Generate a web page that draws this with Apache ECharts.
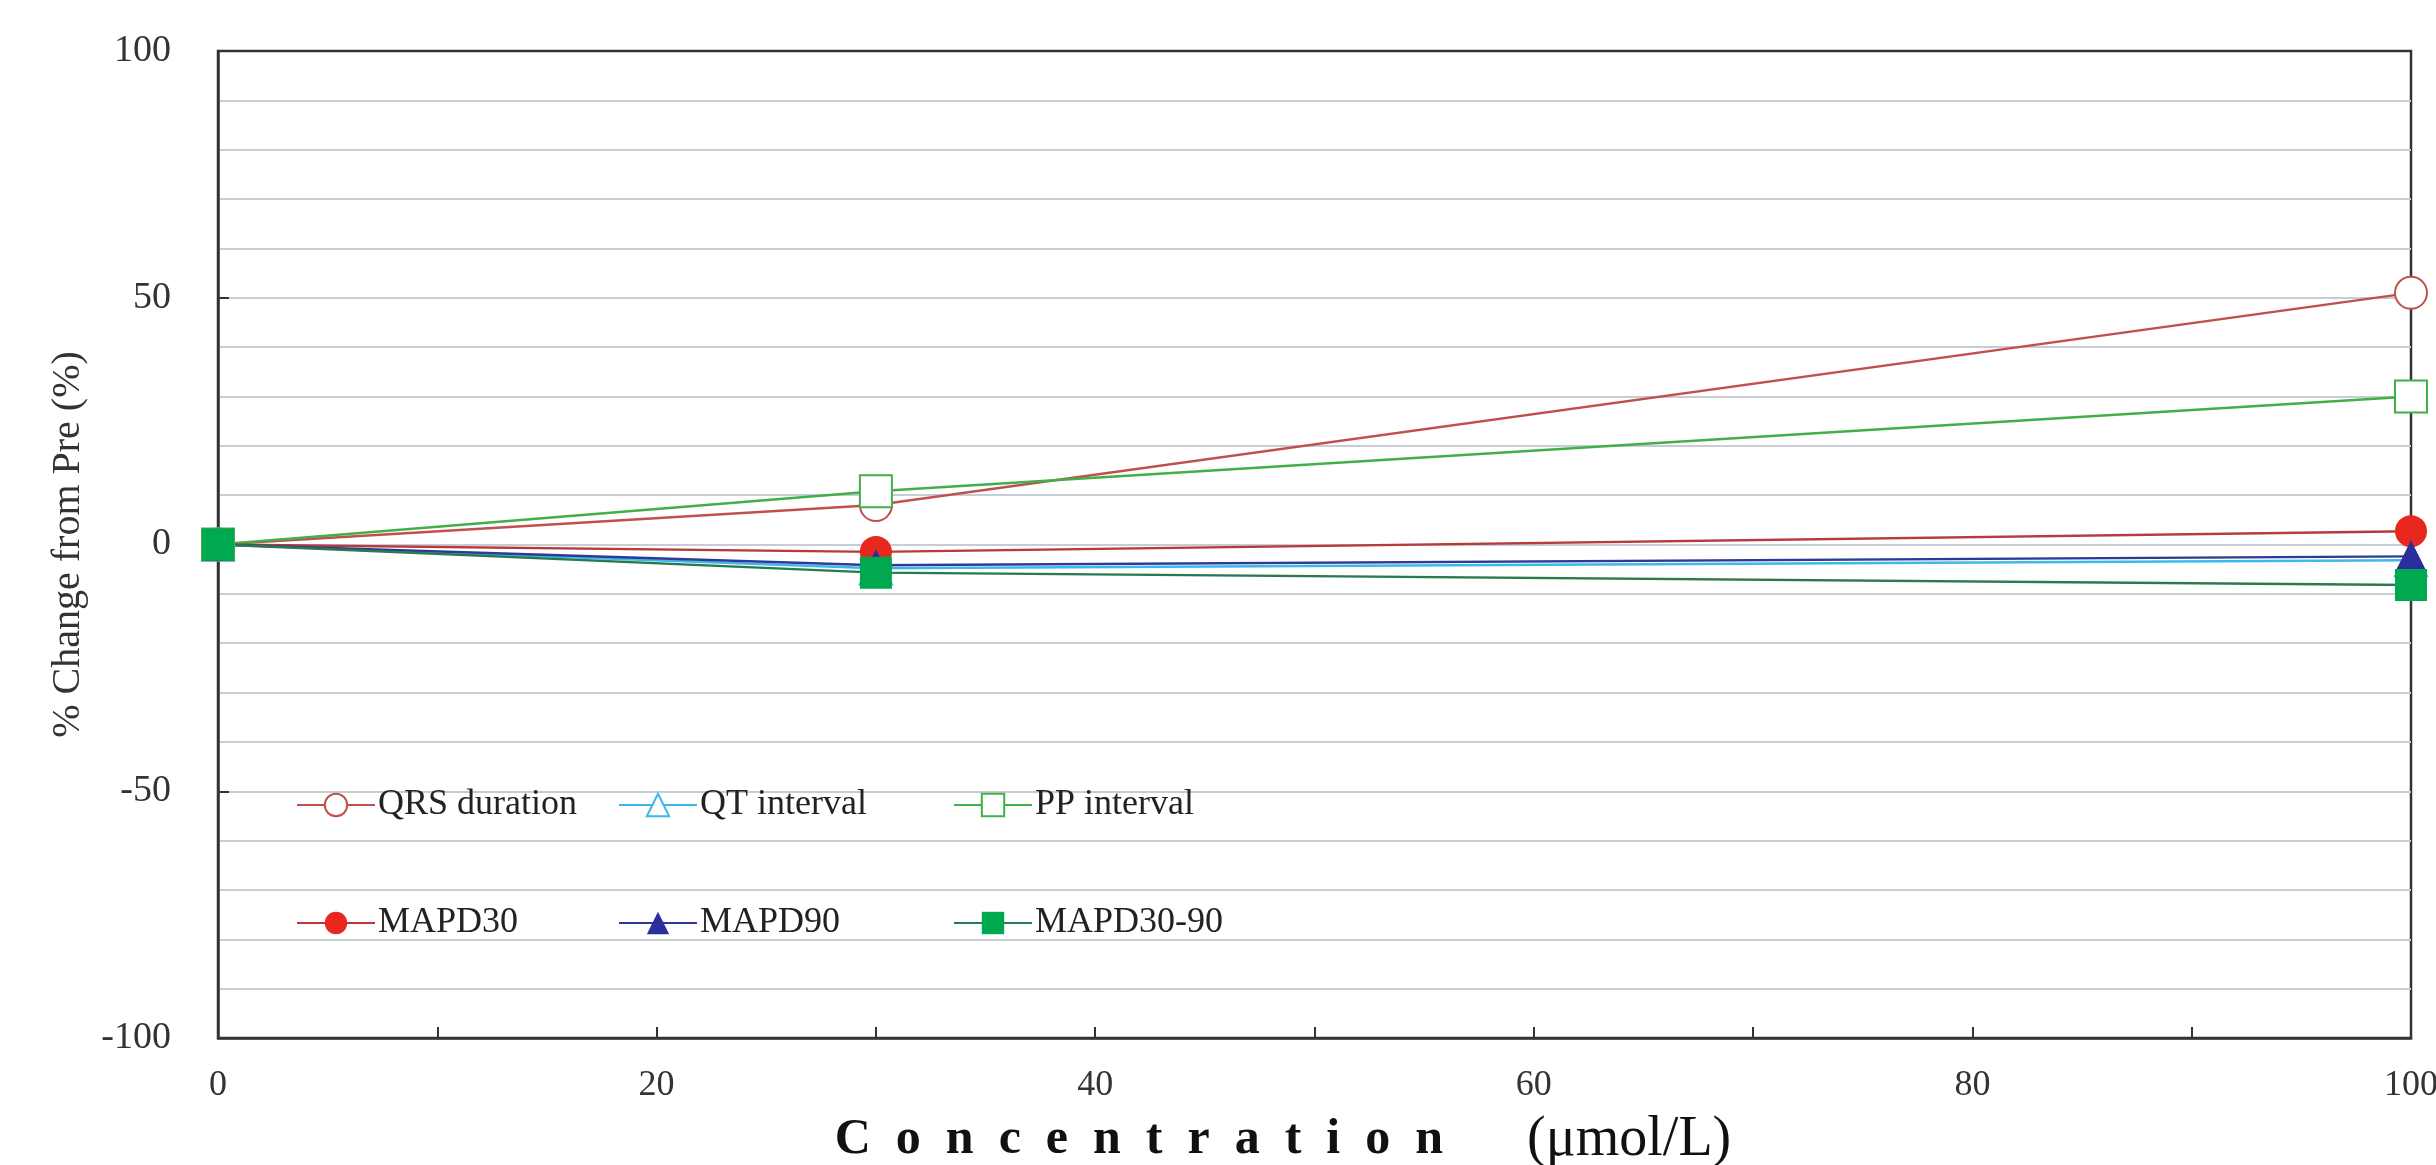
<!DOCTYPE html>
<html>
<head>
<meta charset="utf-8">
<script src="https://cdn.jsdelivr.net/npm/echarts@6/dist/echarts.min.js"></script>
<style>
html,body{margin:0;padding:0;background:#fff;}
#chart{width:2436px;height:1165px;}
</style>
</head>
<body>
<div id="chart"></div>
<script>
// ---- data ----
const concentrations = [0, 30, 100];
const qrsDuration = [0, 8.0, 51.0];
const qtInterval = [0, -4.8, -3.2];
const ppInterval = [0, 10.8, 30.0];
const mapd30 = [0, -1.5, 2.7];
const mapd90 = [0, -4.2, -2.4];
const mapd3090 = [0, -5.7, -8.2];
const seriesNames = ['QRS duration', 'QT interval', 'PP interval', 'MAPD30', 'MAPD90', 'MAPD30-90'];
const yTicks = [-100, -50, 0, 50, 100];
const xTicks = [0, 20, 40, 60, 80, 100];

const FONT = '"Liberation Serif", "Times New Roman", serif';
const pair = arr => concentrations.map((c, i) => [c, arr[i]]);

function mkSeries(name, data, symbol, lineColor, markColor, filled) {
  return {
    name: name, type: 'line', data: pair(data),
    symbol: symbol, symbolSize: 32, showSymbol: true,
    lineStyle: {color: lineColor, width: 2.4},
    itemStyle: filled ? {color: markColor, borderColor: markColor, borderWidth: 0}
                      : {color: markColor, borderColor: markColor, borderWidth: 2.2},
    emphasis: {disabled: true},
    z: 3
  };
}

const series = [
  mkSeries(seriesNames[0], qrsDuration, 'emptyCircle', '#c0504d', '#c0504d', false),
  mkSeries(seriesNames[1], qtInterval, 'emptyTriangle', '#3db8ea', '#3db8ea', false),
  mkSeries(seriesNames[2], ppInterval, 'emptyRect', '#41b04a', '#41b04a', false),
  mkSeries(seriesNames[3], mapd30, 'circle', '#b83a3a', '#e8281e', true),
  mkSeries(seriesNames[4], mapd90, 'triangle', '#2d3a98', '#2b2f9e', true),
  mkSeries(seriesNames[5], mapd3090, 'rect', '#2a7a50', '#00a850', true)
];

const legendLefts = [296, 618, 953];
const legendTops = [786, 904];
const legends = seriesNames.map((n, i) => ({
  data: [n],
  left: legendLefts[i % 3],
  top: legendTops[Math.floor(i / 3)],
  orient: 'horizontal',
  padding: 0,
  itemWidth: 78,
  itemHeight: 28,
  itemGap: 0,
  selectedMode: false,
  textStyle: {fontFamily: FONT, fontSize: 36, color: '#222', lineHeight: 38, padding: [0, 0, 0, -2]}
}));

const chart = echarts.init(document.getElementById('chart'), null, {renderer: 'canvas'});
chart.setOption({
  animation: false,
  backgroundColor: '#fff',
  grid: {left: 218, right: 25, top: 51, bottom: 127, outerBoundsMode: 'none', containLabel: false,
         show: true, borderColor: '#333', borderWidth: 2.5, backgroundColor: 'transparent'},
  legend: legends,
  xAxis: {
    type: 'value', min: xTicks[0], max: xTicks[xTicks.length - 1], interval: 20,
    axisLine: {show: true, onZero: false, lineStyle: {color: '#333', width: 2.5}},
    axisTick: {show: true, inside: true, length: 11, lineStyle: {color: '#333', width: 2}},
    minorTick: {show: true, splitNumber: 2, length: 11, lineStyle: {color: '#333', width: 2}},
    splitLine: {show: false},
    axisLabel: {fontFamily: FONT, fontSize: 36, color: '#333', margin: 30},
    name: '{a|C\u2002o\u2002n\u2002c\u2002e\u2002n\u2002t\u2002r\u2002a\u2002t\u2002i\u2002o\u2002n}{b|\u3000\u2002(\u03bcmol/L)}',
    nameLocation: 'middle', nameGap: 74,
    nameTextStyle: {
      padding: [0, 63, 0, 0],
      rich: {
        a: {fontFamily: FONT, fontSize: 50, fontWeight: 'bold', color: '#111'},
        b: {fontFamily: FONT, fontSize: 56, color: '#111'}
      }
    }
  },
  yAxis: {
    type: 'value', min: yTicks[0], max: yTicks[yTicks.length - 1], interval: 50,
    axisLine: {show: true, onZero: false, lineStyle: {color: '#333', width: 2.5}},
    axisTick: {show: true, inside: true, length: 11, lineStyle: {color: '#333', width: 2}},
    splitLine: {show: true, showMinLine: false, showMaxLine: false, lineStyle: {color: '#c8ccd5', width: 2}},
    minorTick: {show: false, splitNumber: 5},
    minorSplitLine: {show: true, lineStyle: {color: '#c8ccd5', width: 2}},
    axisLabel: {fontFamily: FONT, fontSize: 38, color: '#333', margin: 47},
    name: '% Change from Pre (%)',
    nameLocation: 'middle', nameGap: 130, nameRotate: 90,
    nameTextStyle: {fontFamily: FONT, fontSize: 40, color: '#333'}
  },
  series: series
});
</script>
</body>
</html>
